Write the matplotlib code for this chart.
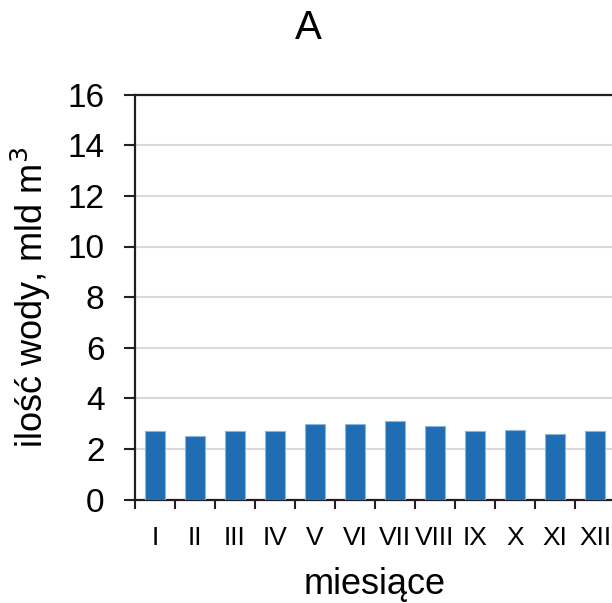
import matplotlib
matplotlib.use('Agg')
import matplotlib.pyplot as plt
import numpy as np

# dane: miesiące i ilość wody
miesiace = ['I', 'II', 'III', 'IV', 'V', 'VI', 'VII', 'VIII', 'IX', 'X', 'XI', 'XII']
woda = [2.7, 2.5, 2.7, 2.7, 3.0, 3.0, 3.1, 2.9, 2.7, 2.75, 2.6, 2.7]
y_ticks = [0, 2, 4, 6, 8, 10, 12, 14, 16]

plt.rcParams['font.family'] = ['Liberation Sans', 'DejaVu Sans']

fig = plt.figure(figsize=(6.12, 6.03), dpi=100)
ax = fig.add_axes([135 / 612, 1 - 499.5 / 603, 480 / 612, 404.8 / 603])

x = np.arange(len(miesiace))
ax.bar(x, woda, width=0.5, color='#1f6eb4', edgecolor='#8db4de', linewidth=0.8, zorder=3)

ax.set_xlim(-0.5, len(miesiace) - 0.5)
ax.set_ylim(0, 16)
ax.set_yticks(y_ticks)
ax.set_yticklabels([str(t) for t in y_ticks], fontsize=24)

# ticks on category boundaries, labels in the middle
ax.set_xticks(np.arange(len(miesiace)) - 0.5)
ax.set_xticklabels([])
ax.set_xticks(x, minor=True)
ax.set_xticklabels(miesiace, minor=True, fontsize=19)
ax.tick_params(axis='x', which='major', length=6.5, width=1.5, color='#231f20', direction='out')
ax.tick_params(axis='x', which='minor', length=0, pad=19)
ax.tick_params(axis='y', length=8, width=1.5, color='#231f20', pad=14)

ax.grid(axis='y', color='#d9d9d9', linewidth=1.5, zorder=0)
ax.set_axisbelow(True)

ax.spines['right'].set_visible(False)
for s in ['left', 'bottom', 'top']:
    ax.spines[s].set_color('#231f20')
    ax.spines[s].set_linewidth(1.6)

ax.set_xlabel('miesiące', fontsize=26, labelpad=12)
ax.set_ylabel('ilość wody, mld m$^3$', fontsize=26, labelpad=10)
fig.text(308 / 612, 1 - 28 / 603, 'A', fontsize=29, ha='center', va='center')

fig.savefig('out.png', dpi=100)
